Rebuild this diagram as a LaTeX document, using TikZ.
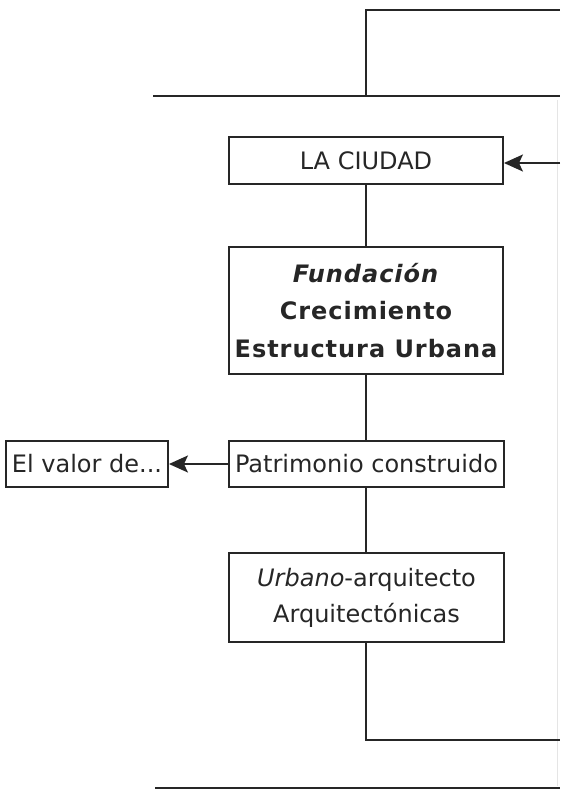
\documentclass[tikz,border=0pt]{standalone}
\usepackage{fontspec}
\setmainfont{DejaVu Sans}
\usetikzlibrary{arrows.meta}
\tikzset{
  ln/.style={draw=black!85, line width=1.9pt},
  boxn/.style={ln, rectangle, inner sep=0pt, align=center, text=black!85},
  arr/.style={ln, -{Stealth[length=19pt,width=17pt,inset=4pt]}},
  faint/.style={draw=black!10, line width=0.8pt},
  regf/.style={font=\fontsize{24}{36}\selectfont}
}
\begin{document}
\begin{tikzpicture}[x=1pt,y=-1pt]
\useasboundingbox (0,0) rectangle (560,790);
% faint right edge
\draw[faint] (557,100) -- (557,786);
% top structure
\coordinate (t1) at (366,10);
\coordinate (t2) at (560,10);
\coordinate (h1) at (153,96);
\coordinate (h2) at (560,96);
\coordinate (hj) at (366,96);
\draw[ln] (hj) -- (t1) -- (t2);
\draw[ln] (h1) -- (h2);
% nodes
\node[boxn, regf, minimum width=274pt, minimum height=47pt] (ciudad) at (366,160.5) {LA CIUDAD};
\node[boxn, minimum width=274pt, minimum height=127pt, font=\fontsize{24}{37.5}\selectfont\bfseries\addfontfeature{LetterSpace=4}] (fund) at (366,310.5) {\textit{Fundación}\\Crecimiento\\Estructura Urbana};
\node[boxn, regf, minimum width=275pt, minimum height=46pt] (patr) at (366.5,464) {Patrimonio construido};
\node[boxn, regf, minimum width=162pt, minimum height=46pt] (valor) at (87,464) {El valor de...};
\node[boxn, regf, minimum width=275pt, minimum height=89pt] (urb) at (366.5,597.5) {\textit{Urbano}-arquitecto\\Arquitectónicas};
% connectors
\coordinate (ain) at (560,163);
\draw[arr] (ain) -- (ain -| ciudad.east);
\draw[ln] (ciudad.south) -- (fund.north);
\draw[ln] (fund.south) -- (patr.north -| fund.south);
\draw[arr] (patr.west) -- (valor.east);
\draw[ln] (patr.south -| fund.south) -- (urb.north -| fund.south);
\coordinate (b1) at (366,740);
\coordinate (b2) at (560,740);
\draw[ln] (urb.south -| b1) -- (b1) -- (b2);
\coordinate (bb1) at (155,788);
\coordinate (bb2) at (560,788);
\draw[ln] (bb1) -- (bb2);
\end{tikzpicture}
\end{document}
